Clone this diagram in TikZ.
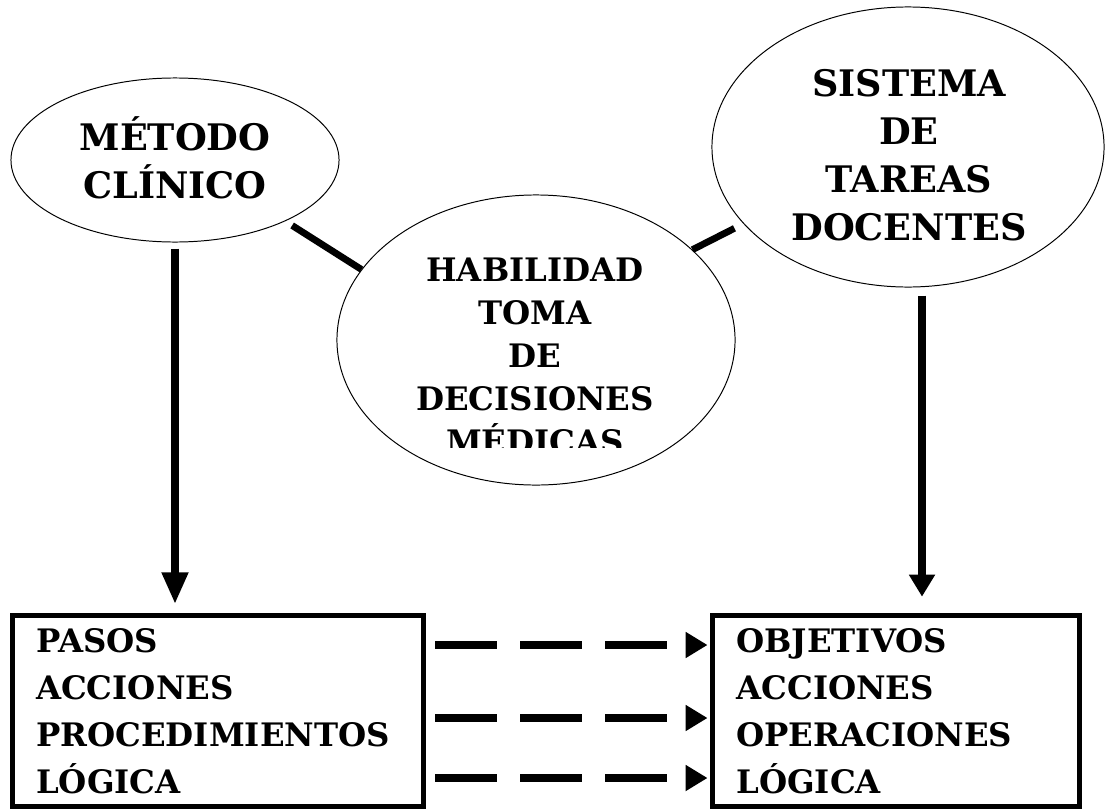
\documentclass[tikz,border=0pt]{standalone}
\usepackage{fontspec}
\setmainfont{DejaVu Serif}
\usetikzlibrary{shapes.geometric}
\usetikzlibrary{arrows.meta}
\usetikzlibrary{positioning}

\begin{document}
\begin{tikzpicture}[
			x = 0.025cm, y = -0.025cm,
			globo/.style = {
				ellipse, draw = black, line width = 0.7pt,
				inner sep = 0,
			},
			rotulo/.style = {
				inner sep = 0, align = center,
				font = \bfseries\fontsize{26}{34}\selectfont,
			},
			caja/.style = {
				rectangle, draw = black, line width = 0.125cm,
				inner xsep = 0.6cm, minimum height = 4.79cm,
				text width = #1, align = left,
				font = \bfseries\fontsize{23}{33.4}\selectfont,
			},
			enlace/.style = {line width = 0.17cm},
			flecha/.style = {
				line width = 0.2cm,
				-{Triangle[length = #1, width = 0.62cm]},
			},
			flecha/.default = 0.55cm,
			trazos/.style = {flecha, dash pattern = on 1.55cm off 0.575cm},
		]

		\useasboundingbox (0,0) rectangle (1105,809);

		\node[
			globo, minimum width = 8.2cm, minimum height = 4.1cm
		] (metodo) at (175,160) {};
		\node[rotulo] (metotexto) at (175,158) {MÉTODO\\CLÍNICO};

		\node[
			globo, minimum width = 9.8cm, minimum height = 7cm
		] (sistema) at (908,147) {};
		\node[rotulo] (sistexto) at (909,155) {SISTEMA\\DE\\TAREAS\\DOCENTES};

		\node[
			globo, minimum width = 9.95cm, minimum height = 7.25cm
		] (hab) at (536,340) {};
		\begin{scope}
			\clip (337,195) rectangle (735,447);
			\node[
				rotulo, anchor = north,
				font = \bfseries\fontsize{23}{30.5}\selectfont,
			] (habtexto) at (535,258)
				{HABILIDAD\\TOMA\\DE\\DECISIONES\\MÉDICAS};
		\end{scope}

		\node[caja = 9.09cm] (izq) at (218,711)
			{PASOS\\ACCIONES\\PROCEDIMIENTOS\\LÓGICA};
		\node[caja = 7.975cm] (der) at (896,711)
			{OBJETIVOS\\ACCIONES\\OPERACIONES\\LÓGICA};

		\draw[enlace, shorten <= 0.2cm] (metodo.-29) -- (hab.158);
		\draw[enlace, shorten >= 0.25cm] (hab.30) -- (sistema.205);

		\draw[flecha = 0.8cm, shorten <= 0.15cm, shorten >= 0.21cm]
			(metodo.south) -- (metodo.south |- izq.north);
		\draw[flecha, shorten <= 0.2cm, shorten >= 0.4cm]
			([xshift = 0.35cm]sistema.south) -- ([xshift = 0.35cm]sistema.south |- der.north);

		\foreach \y in {645, 718, 778} {
			\draw[trazos] ([xshift = 0.22cm]izq.east |- 0,\y) -- ([xshift = -0.06cm]der.west |- 0,\y);
		}

	\end{tikzpicture}
\end{document}
